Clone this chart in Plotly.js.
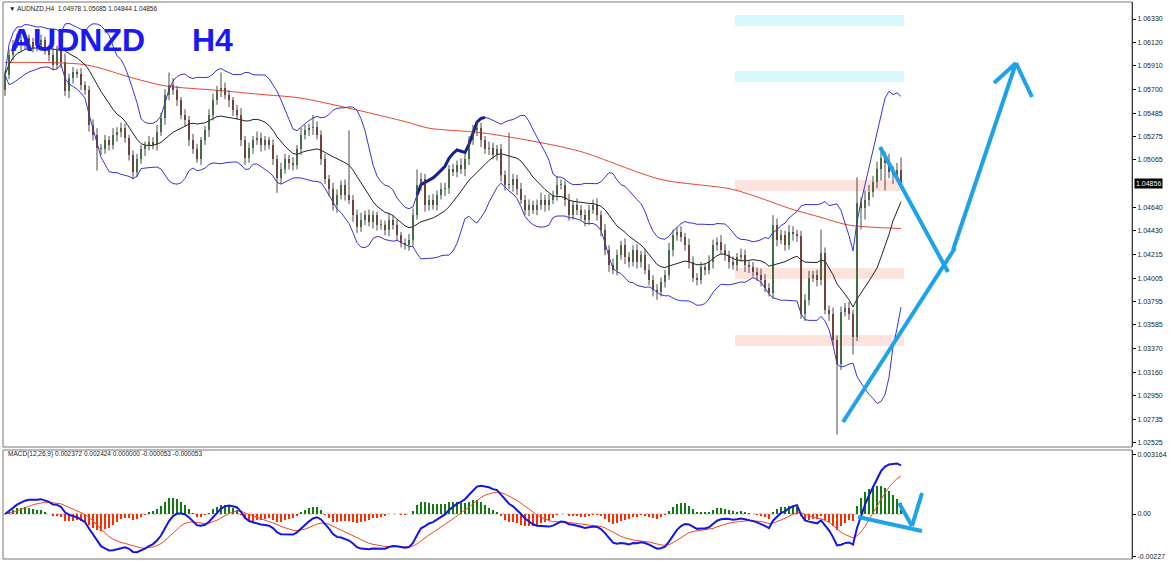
<!DOCTYPE html>
<html><head><meta charset="utf-8">
<script src="https://cdn.plot.ly/plotly-3.0.1.min.js"></script>
<style>html,body{margin:0;padding:0;background:#fff;}#chart{width:1169px;height:561px;}</style>
</head><body><div id="chart"></div>
<script>
// ---------- DATA ----------
const symbol = "AUDNZD";
const timeframe = "H4";
const firstOpen = 1.0569;
const closes = [
1.0583,1.0601,1.0610,1.0614,1.0610,1.0616,1.0612,1.0607,1.0610,1.0614,
1.0605,1.0601,1.0592,1.0605,1.0594,1.0568,1.0580,1.0585,1.0584,1.0574,
1.0569,1.0538,1.0529,1.0517,1.0516,1.0524,1.0520,1.0529,1.0532,1.0535,
1.0526,1.0511,1.0496,1.0507,1.0516,1.0520,1.0523,1.0520,1.0532,1.0544,
1.0565,1.0574,1.0569,1.0560,1.0547,1.0542,1.0524,1.0516,1.0507,1.0524,
1.0533,1.0547,1.0560,1.0568,1.0571,1.0565,1.0560,1.0551,1.0547,1.0524,
1.0508,1.0517,1.0524,1.0526,1.0520,1.0524,1.0520,1.0507,1.0490,1.0498,
1.0507,1.0504,1.0502,1.0516,1.0529,1.0533,1.0535,1.0536,1.0529,1.0507,
1.0489,1.0480,1.0466,1.0475,1.0484,1.0475,1.0471,1.0457,1.0446,1.0453,
1.0457,1.0451,1.0457,1.0448,1.0448,1.0444,1.0453,1.0448,1.0439,1.0432,
1.0430,1.0435,1.0457,1.0484,1.0489,1.0466,1.0471,1.0466,1.0475,1.0480,
1.0481,1.0498,1.0496,1.0502,1.0498,1.0507,1.0524,1.0533,1.0535,1.0524,
1.0516,1.0517,1.0511,1.0516,1.0493,1.0484,1.0484,1.0489,1.0480,1.0471,
1.0462,1.0466,1.0462,1.0466,1.0471,1.0466,1.0471,1.0475,1.0484,1.0484,
1.0471,1.0457,1.0466,1.0462,1.0457,1.0453,1.0462,1.0466,1.0457,1.0444,
1.0426,1.0412,1.0408,1.0421,1.0430,1.0419,1.0415,1.0426,1.0415,1.0421,
1.0408,1.0399,1.0390,1.0388,1.0397,1.0403,1.0426,1.0439,1.0442,1.0437,
1.0430,1.0415,1.0401,1.0399,1.0410,1.0408,1.0415,1.0430,1.0433,1.0426,
1.0421,1.0415,1.0412,1.0419,1.0421,1.0412,1.0410,1.0406,1.0403,1.0399,
1.0392,1.0387,1.0448,1.0435,1.0439,1.0430,1.0442,1.0440,1.0438,1.0368,
1.0381,1.0401,1.0403,1.0399,1.0423,1.0372,1.0368,1.0345,1.0323,1.0370,
1.0374,1.0368,1.0348,1.0468,1.0463,1.0471,1.0478,1.0487,1.0498,1.0508,
1.0504,1.0496,1.0493,1.04978,1.04856
];
// upper / lower shadow length in pips
const wickUp = [
3,5,4,6,4,5,3,4,6,5,3,4,6,4,5,8,4,5,3,5,3,4,5,6,4,
5,4,6,4,5,4,3,4,5,4,3,5,4,6,5,5,11,6,4,3,5,4,6,5,3,
4,5,6,5,14,5,4,3,5,6,4,5,4,6,5,4,3,5,4,6,5,4,5,4,6,
5,4,11,5,4,5,4,6,5,4,5,58,4,5,6,4,5,4,3,5,4,6,4,5,3,
4,5,6,14,6,5,4,5,4,6,5,4,5,4,6,5,4,5,7,5,4,6,5,4,5,
4,47,5,4,6,4,5,4,5,6,4,5,4,8,5,4,5,4,6,4,5,4,5,6,4,
5,4,6,5,4,6,5,4,5,4,6,5,4,5,4,5,6,5,4,5,4,6,5,4,5,
4,6,5,4,6,5,4,5,4,6,5,4,5,4,6,5,4,9,6,5,4,6,5,4,5,
5,6,4,5,21,5,4,6,4,5,4,5,4,23,5,8,6,5,7,10,6,8,5,6,11
];
const wickDn = [
5,4,5,3,6,4,5,4,3,5,4,6,5,4,5,4,6,5,4,5,4,6,5,20,5,
4,5,4,6,5,4,5,7,5,4,6,5,4,5,4,6,5,4,5,4,6,5,4,3,5,
4,6,5,4,5,4,6,5,4,5,6,4,5,4,6,5,4,5,13,5,4,6,5,4,5,
4,5,6,4,5,4,6,5,7,4,5,4,6,5,4,5,4,6,5,4,5,6,4,5,4,
4,5,6,4,5,6,5,4,5,4,6,5,4,5,4,6,5,4,5,6,4,5,4,5,6,
5,4,6,5,4,5,6,4,5,4,6,5,4,5,4,6,5,4,5,4,6,5,4,5,6,
5,6,4,5,4,6,5,4,6,5,4,5,6,7,4,5,4,6,5,4,5,6,4,5,4,
5,4,6,5,4,5,6,4,5,4,6,5,4,5,6,4,3,5,6,4,5,4,6,5,4,
6,5,4,6,5,4,6,5,63,5,4,5,16,4,19,10,6,5,6,10,25,6,8,3,1
];
// slow moving average (red line), read at a few bars
const slowMaBar = [0,20,32,40,53,65,74,100,106,119,134,144,164,182,197,204,211,224];
const slowMaVal = [1.0594,1.0592,1.0580,1.0573,1.0569,1.0565,1.0562,1.0541,1.0535,1.0531,1.0522,1.0514,1.0489,1.0480,1.0462,1.0455,1.0448,1.0445];
const priceTicks = [1.06330,1.06120,1.05910,1.05700,1.05485,1.05275,1.05065,1.04640,1.04430,1.04215,1.04005,1.03795,1.03585,1.03370,1.03160,1.02950,1.02735,1.02525];
const macdTicks = [0.003164, 0, -0.00227];
const macdTickText = ["0.003164","0.00","-0.00227"];
const lastPrice = 1.04856;
const headerText = "\u25BC AUDNZD,H4  1.04978 1.05085 1.04844 1.04856";
const macdText = "MACD(12,26,9) 0.002372 0.002424 0.000000 -0.000053 -0.000053";
const bbPeriod = 14, bbDev = 2;

// ---------- derived series ----------
const n = closes.length;
const idx = closes.map((_, i) => i);
const opens = closes.map((c, i) => i === 0 ? firstOpen : closes[i - 1]);
const highs = closes.map((c, i) => Math.max(c, opens[i]) + wickUp[i] * 0.0001);
const lows = closes.map((c, i) => Math.min(c, opens[i]) - wickDn[i] * 0.0001);

// Bollinger bands
const bbMid = [], bbUp = [], bbDn = [];
for (let i = 0; i < n; i++) {
  const w = closes.slice(Math.max(0, i - bbPeriod + 1), i + 1);
  const m = w.reduce((a, b) => a + b, 0) / w.length;
  const sd = Math.sqrt(w.reduce((a, b) => a + (b - m) * (b - m), 0) / w.length);
  bbMid.push(m); bbUp.push(m + bbDev * sd); bbDn.push(m - bbDev * sd);
}
function ema(arr, p) { const k = 2 / (p + 1); const out = []; let prev = arr[0];
  arr.forEach((v, i) => { prev = i === 0 ? v : v * k + prev * (1 - k); out.push(prev); }); return out; }
const e12 = ema(closes, 12), e26 = ema(closes, 26);
const macd = e12.map((v, i) => v - e26[i]);
const signal = ema(macd, 9);
const hist = macd.map((v, i) => v - signal[i]);

// wick segments
const wx = [], wy = [];
for (let i = 0; i < n; i++) { wx.push(i, i, null); wy.push(lows[i], highs[i], null); }

const bodyBase = closes.map((c, i) => Math.min(c, opens[i]));
const bodyLen = closes.map((c, i) => Math.max(Math.abs(c - opens[i]), 0.00006));
const bodyCol = closes.map((c, i) => c >= opens[i] ? '#3a943a' : '#9b3a30');

// ---------- pixel helpers for drawn objects ----------
const PL = 3, PR = 37, PT = 2, PB = 2, W = 1169, H = 561;
const plotW = W - PL - PR, plotH = H - PT - PB;
const X = px => (px - 5) / 4;
const Y = py => 1.0633 - (py - 19) / 11143;
const M = py => (514 - py) * 0.0000535;
const PX = px => (px - PL) / plotW;
const PY = py => (H - PB - py) / plotH;

const traces = [
  { type: 'scatter', mode: 'lines', x: slowMaBar, y: slowMaVal, line: { color: '#e8472e', width: 1, shape: 'spline', smoothing: 0.8 }, hoverinfo: 'skip', xaxis: 'x', yaxis: 'y' },
  { type: 'scatter', mode: 'lines', x: idx, y: bbUp, line: { color: '#3535d8', width: 1 }, hoverinfo: 'skip' },
  { type: 'scatter', mode: 'lines', x: idx, y: bbDn, line: { color: '#3535d8', width: 1 }, hoverinfo: 'skip' },
  { type: 'scatter', mode: 'lines', x: idx, y: bbMid, line: { color: '#222', width: 1 }, hoverinfo: 'skip' },
  { type: 'scatter', mode: 'lines', x: idx.slice(103, 121), y: bbUp.slice(103, 121), line: { color: '#16208a', width: 3 }, hoverinfo: 'skip' },
  { type: 'scatter', mode: 'lines', x: wx, y: wy, line: { color: '#4a4a4a', width: 1 }, hoverinfo: 'skip', connectgaps: false },
  { type: 'bar', x: idx, y: bodyLen, base: bodyBase, width: 0.72, marker: { color: bodyCol, line: { width: 0 } }, hoverinfo: 'skip' },
  { type: 'bar', x: idx, y: hist, width: 0.72, marker: { color: hist.map(v => v >= 0 ? '#117a11' : '#ff2a00'), line: { width: 0 } }, xaxis: 'x2', yaxis: 'y2', hoverinfo: 'skip' },
  { type: 'scatter', mode: 'lines', x: idx, y: signal, line: { color: '#f04a2a', width: 1 }, xaxis: 'x2', yaxis: 'y2', hoverinfo: 'skip' },
  { type: 'scatter', mode: 'lines', x: idx, y: macd, line: { color: '#1515e6', width: 2 }, xaxis: 'x2', yaxis: 'y2', hoverinfo: 'skip' }
];

const zoneX0 = X(735), zoneX1 = X(904);
const cyan = '#d6f8fb', pink = '#fde2de', drawBlue = '#1ea2ea';
const seg = (x0, y0, x1, y1, yr) => ({ type: 'line', xref: 'x', yref: yr || 'y', x0: X(x0), x1: X(x1),
  y0: yr === 'y2' ? M(y0) : Y(y0), y1: yr === 'y2' ? M(y1) : Y(y1), line: { color: drawBlue, width: 4 }, layer: 'above' });
const zone = (py0, py1, col) => ({ type: 'rect', xref: 'x', yref: 'y', x0: zoneX0, x1: zoneX1, y0: Y(py0), y1: Y(py1), fillcolor: col, line: { width: 0 }, layer: 'below' });

const mainBottom = PY(447), macdTop = PY(450);
const layout = {
  width: W, height: H, margin: { l: PL, r: PR, t: PT, b: PB }, paper_bgcolor: '#fff', plot_bgcolor: '#fff',
  showlegend: false, barmode: 'overlay', bargap: 0,
  font: { family: 'Liberation Sans, Arial, sans-serif', size: 7, color: '#222' },
  xaxis: { domain: [0, 1], range: [-0.5, 281.75], anchor: 'y', showticklabels: false, showgrid: false, zeroline: false, showline: false, ticks: '', fixedrange: true },
  xaxis2: { domain: [0, 1], range: [-0.5, 281.75], anchor: 'y2', matches: 'x', showticklabels: false, showgrid: false, zeroline: false, showline: false, ticks: '' },
  yaxis: { domain: [mainBottom, 1], range: [Y(447), Y(2)], side: 'right', tickvals: priceTicks, ticktext: priceTicks.map(v => v.toFixed(5)),
    ticks: 'outside', ticklen: 3, tickcolor: '#000', showgrid: false, zeroline: false, showline: true, linecolor: '#000', linewidth: 1, tickfont: { size: 7, color: '#222' } },
  yaxis2: { domain: [0, macdTop], range: [M(559), M(450)], side: 'right', tickvals: macdTicks, ticktext: macdTickText,
    ticks: 'outside', ticklen: 3, tickcolor: '#000', showgrid: false, zeroline: false, showline: true, linecolor: '#000', linewidth: 1, tickfont: { size: 7, color: '#222' } },
  shapes: [
    zone(15, 26, cyan), zone(71, 82, cyan), zone(180, 191, pink), zone(268, 279, pink), zone(335, 346, pink),
    { type: 'rect', xref: 'paper', yref: 'paper', x0: 0, x1: 1, y0: mainBottom, y1: 1, line: { color: '#777', width: 1 }, layer: 'above' },
    { type: 'rect', xref: 'paper', yref: 'paper', x0: 0, x1: 1, y0: 0, y1: macdTop, line: { color: '#777', width: 1 }, layer: 'above' },
    { type: 'line', xref: 'x2', yref: 'y2', x0: -0.5, x1: 224.5, y0: 0, y1: 0, line: { color: '#9ab89a', width: 1, dash: 'dot' }, layer: 'below' },
    seg(880, 147, 948, 272), seg(843, 422, 955, 248), seg(953, 250, 1015, 66), seg(994, 83, 1016, 63), seg(1016, 63, 1032, 97),
    seg(858, 517, 922, 531, 'y2'), seg(899, 503, 912, 526, 'y2'), seg(912, 526, 922, 493, 'y2')
  ],
  annotations: [
    { xref: 'paper', yref: 'paper', x: PX(7), y: PY(8), xanchor: 'left', yanchor: 'middle', text: headerText, showarrow: false, font: { size: 6.5, color: '#222' } },
    { xref: 'paper', yref: 'paper', x: PX(8), y: PY(40), xanchor: 'left', yanchor: 'middle', text: '<b>' + symbol + '</b>', showarrow: false, font: { size: 32, color: '#1a1af2', family: 'Liberation Sans, Arial, sans-serif' } },
    { xref: 'paper', yref: 'paper', x: PX(190), y: PY(40), xanchor: 'left', yanchor: 'middle', text: '<b>' + timeframe + '</b>', showarrow: false, font: { size: 32, color: '#1a1af2', family: 'Liberation Sans, Arial, sans-serif' } },
    { xref: 'paper', yref: 'paper', x: PX(6), y: PY(454), xanchor: 'left', yanchor: 'middle', text: macdText, showarrow: false, font: { size: 6.5, color: '#222' } },
    { xref: 'paper', yref: 'y', x: 1.002, y: lastPrice, xanchor: 'left', yanchor: 'middle', text: lastPrice.toFixed(5), showarrow: false, bgcolor: '#000', borderpad: 1, font: { size: 7, color: '#fff' } }
  ]
};
Plotly.newPlot('chart', traces, layout, { staticPlot: true, displayModeBar: false });
</script></body></html>
